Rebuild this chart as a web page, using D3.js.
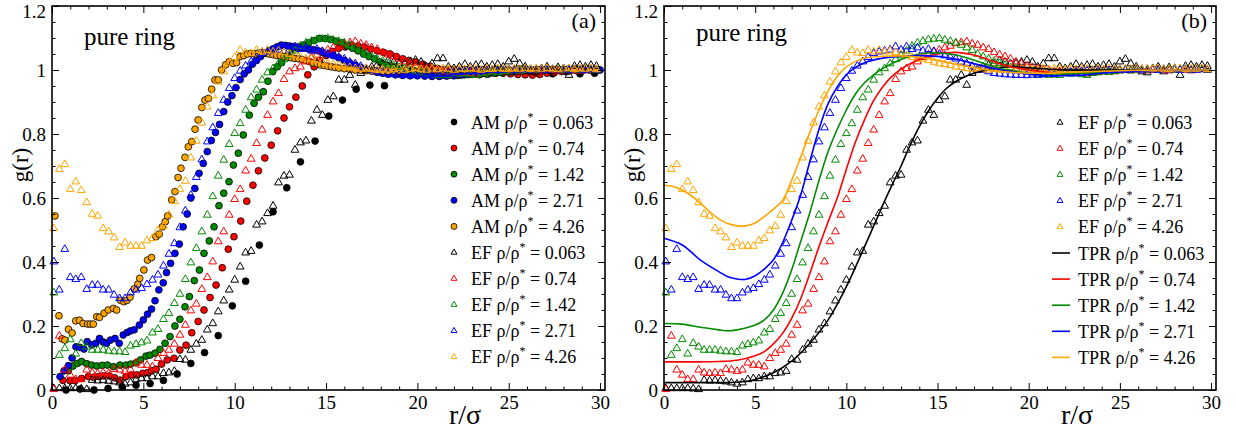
<!DOCTYPE html>
<html><head><meta charset="utf-8">
<script src="https://cdn.jsdelivr.net/npm/d3@7/dist/d3.min.js"></script>
<style>
body{margin:0;background:#fff}
svg{display:block}
text{font-family:"Liberation Serif","Times New Roman",serif;fill:#000}
</style></head>
<body><svg id="chart" width="1236" height="433"></svg>
<script>
// ---------------- DATA ----------------
const densities = ["0.063", "0.74", "1.42", "2.71", "4.26"];
const xTickLabels = ["0", "5", "10", "15", "20", "25", "30"];
const yTickLabels = ["0", "0.2", "0.4", "0.6", "0.8", "1", "1.2"];

// EF (shared r grid), g(r) values per density
const rEF = [0.1,0.4,0.7,1.0,1.3,1.6,1.9,2.2,2.5,2.8,
3.1,3.4,3.7,4.0,4.3,4.6,4.9,5.2,5.5,5.8,
6.1,6.4,6.7,7.0,7.3,7.6,7.9,8.2,8.5,8.8,
9.1,9.4,9.7,10.0,10.3,10.6,10.9,11.2,11.5,11.8,
12.1,12.4,12.7,13.0,13.3,13.6,13.9,14.2,14.5,14.8,
15.1,15.4,15.7,16.0,16.3,16.6,16.9,17.2,17.5,17.8,
18.1,18.4,18.7,19.0,19.3,19.6,19.9,20.2,20.5,20.8,
21.1,21.4,21.7,22.0,22.3,22.6,22.9,23.2,23.5,23.8,
24.1,24.4,24.7,25.0,25.3,25.6,25.9,26.2,26.5,26.8,
27.1,27.4,27.7,28.0,28.3,28.6,28.9,29.2,29.5,29.8];
const efBlack = [0.005,0.005,0.005,0.005,0.005,0.004,0.002,0.031,0.029,0.030,
0.028,0.026,0.023,0.019,0.023,0.033,0.036,0.036,0.042,0.042,
0.052,0.054,0.059,0.096,0.094,0.125,0.144,0.156,0.188,0.208,
0.245,0.279,0.313,0.344,0.385,0.429,0.434,0.516,0.526,0.552,
0.575,0.648,0.669,0.672,0.750,0.773,0.779,0.841,0.875,0.859,
0.906,0.917,0.969,0.969,0.984,0.953,0.990,1.000,1.010,1.015,
1.020,1.030,1.025,1.020,1.020,1.025,1.031,1.025,1.010,1.020,
1.036,1.036,1.010,1.005,1.010,1.018,1.010,1.015,1.018,1.010,
1.015,1.018,1.010,1.026,1.034,1.020,1.010,0.995,0.992,1.005,
1.010,0.995,1.008,1.005,0.984,1.012,1.015,1.010,1.015,1.012];
const efRed = [0.002,0.169,0.063,0.047,0.033,0.033,0.063,0.054,0.052,0.054,
0.052,0.065,0.063,0.059,0.063,0.085,0.078,0.078,0.073,0.099,
0.115,0.125,0.144,0.172,0.203,0.248,0.269,0.315,0.352,0.401,
0.464,0.495,0.547,0.596,0.627,0.685,0.722,0.771,0.813,0.859,
0.901,0.927,0.971,0.995,1.005,1.010,1.026,1.040,1.047,1.058,
1.063,1.070,1.075,1.083,1.086,1.089,1.082,1.078,1.070,1.065,
1.055,1.048,1.042,1.035,1.026,1.020,1.012,1.008,1.005,1.000,
0.998,0.995,0.995,0.993,0.990,0.992,0.990,0.988,0.990,0.993,
0.995,0.993,0.995,0.998,1.000,0.998,1.000,1.002,0.998,1.000,
1.002,1.000,0.998,1.000,1.002,1.000,0.998,1.000,1.002,1.000];
const efGreen = [0.304,0.109,0.130,0.158,0.113,0.146,0.135,0.125,0.125,0.125,
0.122,0.120,0.120,0.118,0.138,0.143,0.148,0.154,0.179,0.190,
0.221,0.240,0.271,0.300,0.346,0.398,0.443,0.495,0.547,0.605,
0.669,0.719,0.768,0.802,0.833,0.875,0.914,0.938,0.969,0.992,
1.005,1.020,1.033,1.045,1.060,1.075,1.085,1.090,1.095,1.097,
1.099,1.094,1.090,1.085,1.078,1.070,1.062,1.050,1.042,1.035,
1.028,1.021,1.015,1.008,1.005,1.000,0.995,0.992,0.988,0.986,
0.984,0.985,0.984,0.990,0.988,0.990,0.986,0.984,0.990,0.992,
0.995,0.993,0.996,0.998,1.000,0.998,1.000,1.002,1.000,1.003,
1.000,1.002,1.004,1.000,1.003,1.002,1.000,1.003,1.002,1.000];
const efBlue = [0.401,0.313,0.440,0.352,0.346,0.352,0.315,0.328,0.328,0.313,
0.313,0.297,0.286,0.286,0.304,0.313,0.318,0.330,0.344,0.360,
0.388,0.425,0.458,0.508,0.560,0.609,0.665,0.720,0.776,0.820,
0.865,0.906,0.943,0.974,0.997,1.013,1.026,1.040,1.052,1.057,
1.060,1.063,1.073,1.063,1.073,1.065,1.070,1.060,1.065,1.058,
1.050,1.045,1.040,1.035,1.025,1.020,1.012,1.005,1.000,0.995,
0.990,0.988,0.986,0.985,0.984,0.984,0.983,0.985,0.984,0.986,
0.988,0.987,0.990,0.992,0.994,0.995,0.996,0.998,0.997,0.999,
1.000,0.999,1.000,1.002,1.000,1.001,1.003,1.000,1.002,1.001,
1.000,1.002,1.001,1.003,1.000,1.002,1.001,1.000,1.002,1.001];
const efOrange = [0.505,0.690,0.705,0.627,0.651,0.624,0.586,0.550,0.544,0.505,
0.495,0.476,0.446,0.460,0.450,0.450,0.450,0.467,0.474,0.498,
0.512,0.547,0.590,0.627,0.653,0.726,0.778,0.835,0.885,0.920,
0.963,0.995,1.023,1.040,1.062,1.054,1.052,1.062,1.057,1.062,
1.057,1.060,1.055,1.050,1.045,1.040,1.035,1.035,1.030,1.025,
1.020,1.018,1.015,1.010,1.008,1.005,1.003,1.005,1.002,1.000,
1.003,1.000,1.002,1.005,1.000,1.003,1.005,1.002,1.000,1.004,
1.002,1.005,1.003,1.000,1.004,1.002,1.005,1.003,1.000,1.004,
1.002,1.005,1.003,1.002,1.004,1.003,1.005,1.002,1.004,1.003,
1.005,1.003,1.002,1.004,1.005,1.002,1.004,1.003,1.005,1.002];

// AM simulation points [r, g(r)]
const amBlack = [[0.77,0.0],[1.53,0.003],[2.3,0.0],[3.07,0.005],[3.84,0.01],[4.6,0.015],[5.37,0.02],[6.1,0.03],[6.85,0.05],[7.6,0.083],[8.35,0.117],[9.1,0.17],[9.87,0.263],[10.6,0.34],[11.35,0.453],[12.1,0.557],[12.85,0.632],[13.6,0.713],[14.4,0.778],[15.15,0.856],[15.9,0.906],[16.65,0.94],[17.4,0.953],[18.2,0.951],[18.95,0.988],[19.7,1.0],[20.5,1.005],[21.25,1.0],[22.0,1.002],[22.8,0.998],[23.55,1.0],[24.3,1.003],[25.1,0.998],[25.85,1.0],[26.6,0.99],[27.4,0.988],[28.15,0.995],[28.9,0.988],[29.7,0.99]];
const amRed = [[0.6,0.03],[0.99,0.029],[1.26,0.029],[1.62,0.036],[1.99,0.042],[2.27,0.04],[2.54,0.042],[2.81,0.044],[3.14,0.044],[3.43,0.038],[3.72,0.031],[4.05,0.042],[4.36,0.047],[4.64,0.047],[4.96,0.052],[5.22,0.054],[5.46,0.06],[5.7,0.065],[6.0,0.081],[6.31,0.094],[6.68,0.099],[7.0,0.125],[7.34,0.14],[7.65,0.179],[8.0,0.214],[8.32,0.25],[8.65,0.289],[8.98,0.328],[9.32,0.382],[9.65,0.44],[9.96,0.479],[10.33,0.528],[10.66,0.59],[11.0,0.64],[11.3,0.685],[11.65,0.725],[12.0,0.765],[12.35,0.81],[12.7,0.85],[13.0,0.885],[13.35,0.915],[13.7,0.95],[14.0,0.985],[14.35,1.01],[14.65,1.03],[15.0,1.045],[15.35,1.058],[15.7,1.068],[16.05,1.072],[16.4,1.078],[16.75,1.075],[17.1,1.072],[17.45,1.065],[17.8,1.06],[18.15,1.055],[18.5,1.05],[18.85,1.042],[19.2,1.035],[19.55,1.03],[19.9,1.025],[20.3,1.018],[20.7,1.012],[21.1,1.005],[21.5,1.0],[21.9,0.998],[22.3,0.995],[22.7,0.993],[23.1,0.99],[23.5,0.99],[23.9,0.988],[24.3,0.99],[24.7,0.99],[25.1,0.988],[25.5,0.986],[25.9,0.985],[26.3,0.984],[26.7,0.986],[27.1,0.99],[27.5,0.992],[27.9,0.995],[28.3,0.997],[28.7,0.998],[29.1,1.0],[29.5,1.0],[29.9,1.0]];
const amGreen = [[0.9,0.06],[1.15,0.075],[1.39,0.083],[1.62,0.089],[1.9,0.082],[2.17,0.078],[2.45,0.075],[2.75,0.077],[3.03,0.078],[3.36,0.073],[3.72,0.078],[4.05,0.078],[4.31,0.081],[4.6,0.085],[4.85,0.094],[5.15,0.106],[5.36,0.109],[5.64,0.115],[5.91,0.127],[6.19,0.146],[6.46,0.167],[6.73,0.2],[7.0,0.221],[7.28,0.26],[7.52,0.292],[7.79,0.342],[8.07,0.375],[8.32,0.427],[8.61,0.466],[8.87,0.51],[9.14,0.576],[9.4,0.615],[9.69,0.651],[9.93,0.703],[10.2,0.74],[10.47,0.797],[10.8,0.859],[11.06,0.896],[11.3,0.915],[11.57,0.932],[11.82,0.965],[12.08,0.995],[12.33,1.01],[12.57,1.023],[12.88,1.045],[13.15,1.06],[13.45,1.07],[13.75,1.078],[14.05,1.085],[14.35,1.092],[14.65,1.099],[14.95,1.098],[15.25,1.095],[15.55,1.09],[15.85,1.085],[16.15,1.075],[16.45,1.068],[16.75,1.06],[17.05,1.05],[17.35,1.042],[17.65,1.035],[17.95,1.025],[18.3,1.016],[18.65,1.01],[19.0,1.003],[19.4,0.998],[19.8,0.993],[20.2,0.99],[20.6,0.988],[21.0,0.986],[21.4,0.984],[21.8,0.984],[22.2,0.983],[22.6,0.985],[23.0,0.986],[23.4,0.985],[23.8,0.987],[24.2,0.99],[24.6,0.992],[25.0,0.994],[25.4,0.995],[25.8,0.997],[26.2,0.998],[26.6,1.0],[27.0,1.0],[27.4,1.002],[27.8,1.0],[28.2,1.002],[28.6,1.003],[29.0,1.002],[29.4,1.003],[29.8,1.002]];
const amBlue = [[0.44,0.042],[0.66,0.06],[0.9,0.076],[1.1,0.1],[1.31,0.135],[1.53,0.133],[1.75,0.128],[1.93,0.151],[2.17,0.141],[2.4,0.146],[2.6,0.161],[2.8,0.15],[2.99,0.146],[3.2,0.156],[3.45,0.161],[3.68,0.146],[3.9,0.172],[4.12,0.18],[4.3,0.185],[4.5,0.188],[4.78,0.203],[5.0,0.219],[5.23,0.237],[5.45,0.253],[5.64,0.279],[5.85,0.313],[6.09,0.335],[6.27,0.367],[6.49,0.396],[6.73,0.427],[6.97,0.456],[7.18,0.51],[7.4,0.55],[7.6,0.6],[7.82,0.63],[8.05,0.677],[8.28,0.708],[8.5,0.745],[8.72,0.78],[8.95,0.805],[9.17,0.83],[9.4,0.87],[9.62,0.9],[9.85,0.92],[10.07,0.945],[10.3,0.97],[10.52,0.988],[10.75,1.0],[10.97,1.018],[11.2,1.03],[11.42,1.042],[11.65,1.052],[11.87,1.06],[12.1,1.066],[12.32,1.072],[12.55,1.078],[12.77,1.077],[13.0,1.075],[13.22,1.073],[13.45,1.072],[13.67,1.07],[13.9,1.068],[14.12,1.065],[14.35,1.063],[14.57,1.06],[14.8,1.055],[15.1,1.05],[15.4,1.045],[15.7,1.038],[16.0,1.03],[16.3,1.022],[16.6,1.015],[16.9,1.008],[17.2,1.002],[17.5,0.997],[17.8,0.993],[18.1,0.99],[18.4,0.987],[18.8,0.985],[19.2,0.983],[19.6,0.982],[20.0,0.982],[20.4,0.981],[20.8,0.98],[21.2,0.98],[21.6,0.981],[22.0,0.982],[22.4,0.984],[22.8,0.986],[23.2,0.988],[23.6,0.99],[24.0,0.992],[24.4,0.994],[24.8,0.996],[25.2,0.997],[25.6,0.998],[26.0,1.0],[26.4,1.0],[26.8,1.001],[27.2,1.0],[27.6,1.002],[28.0,1.001],[28.4,1.0],[28.8,1.002],[29.2,1.001],[29.6,1.0],[30.0,1.0]];
const amOrange = [[0.16,0.544],[0.38,0.232],[0.55,0.16],[0.71,0.156],[0.9,0.19],[1.1,0.178],[1.3,0.216],[1.5,0.218],[1.7,0.208],[1.95,0.206],[2.1,0.206],[2.26,0.206],[2.45,0.229],[2.6,0.227],[2.85,0.24],[3.08,0.25],[3.36,0.255],[3.54,0.25],[3.76,0.28],[3.94,0.276],[4.1,0.28],[4.27,0.29],[4.5,0.316],[4.7,0.331],[4.8,0.349],[5.03,0.375],[5.23,0.406],[5.45,0.414],[5.69,0.479],[5.87,0.487],[6.04,0.51],[6.2,0.526],[6.33,0.544],[6.55,0.594],[6.73,0.62],[6.9,0.664],[7.06,0.693],[7.28,0.727],[7.46,0.76],[7.65,0.776],[7.83,0.815],[8.0,0.844],[8.2,0.883],[8.37,0.906],[8.56,0.911],[8.74,0.94],[8.92,0.969],[9.1,0.969],[9.28,1.0],[9.5,1.016],[9.7,1.026],[9.9,1.021],[10.1,1.023],[10.3,1.042],[10.5,1.045],[10.7,1.05],[10.9,1.052],[11.1,1.05],[11.3,1.053],[11.5,1.055],[11.7,1.052],[11.9,1.05],[12.1,1.048],[12.3,1.045],[12.5,1.045],[12.7,1.042],[12.9,1.04],[13.1,1.038],[13.3,1.036],[13.5,1.035],[13.7,1.033],[13.9,1.03],[14.1,1.026],[14.3,1.022],[14.5,1.02],[14.7,1.016],[14.9,1.014],[15.1,1.012],[15.3,1.01],[15.5,1.008],[15.7,1.006],[16.0,1.004],[16.3,1.002],[16.6,1.0],[16.9,0.999],[17.2,0.998],[17.5,0.997],[17.8,0.997],[18.1,0.996],[18.4,0.996],[18.7,0.997],[19.0,0.997],[19.4,0.998],[19.8,0.998],[20.2,0.999],[20.6,1.0],[21.0,1.0],[21.4,1.0],[21.8,1.001],[22.2,1.0],[22.6,1.001],[23.0,1.0],[23.4,1.001],[23.8,1.0],[24.2,1.001],[24.6,1.0],[25.0,1.001],[25.4,1.0],[25.8,1.001],[26.2,1.0],[26.6,1.001],[27.0,1.0],[27.4,1.001],[27.8,1.0],[28.2,1.001],[28.6,1.0],[29.0,1.001],[29.4,1.0],[29.8,1.001]];

// TPR theory curves [r, g(r)]
const tprBlack = [[0,0.023],[1,0.023],[2,0.023],[3,0.023],[4,0.024],[5,0.033],[6,0.054],[7,0.09],[8,0.146],[9,0.219],[10,0.323],[11,0.448],[12,0.578],[12.5,0.64],[13,0.70],[13.5,0.765],[14,0.823],[14.5,0.872],[15,0.912],[15.5,0.943],[16,0.964],[16.5,0.979],[17,0.99],[18,1.004],[19,1.01],[20,1.007],[21,1.003],[22,1.0],[24,1.0],[26,1.0],[28,1.0],[30,1.0]];
const tprRed = [[0,0.088],[1,0.088],[2,0.088],[3,0.089],[4,0.093],[5,0.107],[5.5,0.12],[6,0.144],[6.5,0.177],[7,0.224],[7.5,0.286],[8,0.365],[8.5,0.448],[9,0.526],[9.5,0.6],[10,0.69],[10.5,0.775],[11,0.845],[11.5,0.905],[12,0.948],[12.5,0.98],[13,1.003],[13.5,1.02],[14,1.033],[14.5,1.043],[15,1.05],[15.5,1.054],[16,1.055],[16.5,1.052],[17,1.047],[17.5,1.038],[18,1.028],[18.5,1.018],[19,1.01],[20,1.0],[21,0.993],[22,0.99],[23,0.99],[24,0.992],[25,0.995],[26,0.998],[28,1.0],[30,1.0]];
const tprGreen = [[0,0.208],[1,0.206],[2,0.196],[3,0.188],[3.5,0.185],[4,0.188],[5,0.203],[5.5,0.219],[6,0.25],[6.5,0.302],[7,0.375],[7.5,0.465],[8,0.555],[8.5,0.655],[9,0.745],[9.5,0.815],[10,0.875],[10.5,0.925],[11,0.96],[11.5,0.985],[12,1.005],[12.5,1.02],[13,1.033],[13.5,1.043],[14,1.05],[14.5,1.053],[15,1.053],[16,1.047],[17,1.031],[18,1.012],[19,0.998],[20,0.99],[21,0.988],[22,0.988],[23,0.99],[24,0.992],[25,0.995],[26,0.998],[28,1.0],[30,1.0]];
const tprBlue = [[0,0.474],[1,0.453],[2,0.406],[3,0.37],[3.5,0.354],[4,0.347],[4.5,0.346],[5,0.357],[5.5,0.378],[6,0.407],[6.5,0.46],[7,0.53],[7.5,0.61],[8,0.715],[8.5,0.815],[9,0.895],[9.5,0.947],[10,0.985],[10.5,1.008],[11,1.023],[12,1.037],[13,1.043],[14,1.045],[15,1.042],[16,1.034],[17,1.02],[18,1.006],[19,0.995],[20,0.987],[21,0.983],[22,0.982],[23,0.984],[24,0.99],[25,0.994],[26,0.997],[28,1.0],[30,1.0]];
const tprOrange = [[0,0.64],[0.5,0.636],[1,0.625],[1.5,0.607],[2,0.583],[2.5,0.557],[3,0.535],[3.5,0.52],[4,0.513],[4.5,0.513],[5,0.522],[5.5,0.542],[6,0.565],[6.5,0.592],[7,0.655],[7.5,0.728],[8,0.805],[8.5,0.875],[9,0.935],[9.5,0.98],[10,1.01],[10.5,1.027],[11,1.037],[12,1.043],[13,1.044],[14,1.04],[15,1.03],[16,1.018],[17,1.006],[18,0.998],[19,0.993],[20,0.99],[21,0.99],[22,0.992],[24,0.996],[26,0.999],[28,1.0],[30,1.0]];

// ---------------- STYLE / LAYOUT ----------------
const colors = ["#000000", "#ff0000", "#008b00", "#0000ff", "#ffa500"];
const efSeries = [efBlack, efRed, efGreen, efBlue, efOrange];
const amSeries = [amBlack, amRed, amGreen, amBlue, amOrange];
const tprSeries = [tprBlack, tprRed, tprGreen, tprBlue, tprOrange];

const svg = d3.select("#chart");
svg.append("rect").attr("width", 1236).attr("height", 433).attr("fill", "#fff");

const FONT = '"Liberation Serif","Times New Roman",serif';
const triPath = d3.symbol().type(d3.symbolTriangle).size(26)();
const triLegend = d3.symbol().type(d3.symbolTriangle).size(15)();

function makePanel(left, right) {
  const x = d3.scaleLinear().domain([0, 30.27]).range([left, right]);
  const y = d3.scaleLinear().domain([0, 1.2]).range([390, 6]);
  const g = svg.append("g");
  return {x, y, g, left, right};
}

function drawCircles(P, pts, color) {
  P.g.append("g").selectAll("circle").data(pts).join("circle")
    .attr("cx", d => P.x(d[0])).attr("cy", d => P.y(d[1])).attr("r", 3.4)
    .attr("fill", color).attr("stroke", "#000").attr("stroke-width", 0.8);
}
function drawTriangles(P, gs, color) {
  P.g.append("g").selectAll("path").data(d3.zip(rEF, gs)).join("path")
    .attr("d", triPath)
    .attr("transform", d => `translate(${P.x(d[0])},${P.y(d[1])})`)
    .attr("fill", "none").attr("stroke", color).attr("stroke-width", 1);
}
function drawLine(P, pts, color) {
  const line = d3.line().x(d => P.x(d[0])).y(d => P.y(d[1])).curve(d3.curveCatmullRom);
  P.g.append("path").datum(pts).attr("d", line)
    .attr("fill", "none").attr("stroke", color).attr("stroke-width", 1.6);
}

function drawAxes(P, letter, ringY) {
  const g = P.g.append("g");
  const xMajor = xTickLabels.map(Number);
  const yMajor = yTickLabels.map(Number);
  const xMinor = d3.range(0, 31, 1).filter(v => v % 5 !== 0);
  const yMinor = d3.range(0, 1.2001, 0.05).filter(v => Math.abs(v * 5 - Math.round(v * 5)) > 1e-6);
  const fmtX = d => xTickLabels[xMajor.indexOf(d)];
  const fmtY = d => yTickLabels[yMajor.findIndex(v => Math.abs(v - d) < 1e-9)];

  const bottom = y0 => g.append("g").attr("transform", `translate(0,${y0})`);
  bottom(390).call(d3.axisBottom(P.x).tickValues(xMajor).tickSizeInner(-7).tickSizeOuter(0).tickPadding(6).tickFormat(fmtX));
  bottom(390).call(d3.axisBottom(P.x).tickValues(xMinor).tickSizeInner(-3.5).tickSizeOuter(0).tickFormat(""));
  bottom(6).call(d3.axisTop(P.x).tickValues(xMajor).tickSizeInner(-7).tickSizeOuter(0).tickFormat(""));
  bottom(6).call(d3.axisTop(P.x).tickValues(xMinor).tickSizeInner(-3.5).tickSizeOuter(0).tickFormat(""));
  const side = x0 => g.append("g").attr("transform", `translate(${x0},0)`);
  const yl = side(P.left);
  yl.call(d3.axisLeft(P.y).tickValues(yMajor).tickSizeInner(-7).tickSizeOuter(0).tickPadding(6).tickFormat(fmtY));
  side(P.left).call(d3.axisLeft(P.y).tickValues(yMinor).tickSizeInner(-3.5).tickSizeOuter(0).tickFormat(""));
  side(P.right).call(d3.axisRight(P.y).tickValues(yMajor).tickSizeInner(-7).tickSizeOuter(0).tickFormat(""));
  side(P.right).call(d3.axisRight(P.y).tickValues(yMinor).tickSizeInner(-3.5).tickSizeOuter(0).tickFormat(""));

  g.selectAll(".domain").remove();
  g.selectAll(".tick line").attr("stroke", "#000").attr("stroke-width", 1);
  g.selectAll(".tick text").attr("font-family", FONT).attr("font-size", 19).attr("fill", "#000");
  g.selectAll("g").attr("font-family", FONT);
  // keep the top label fully inside the picture
  yl.selectAll(".tick text").filter(d => d === yMajor[yMajor.length - 1]).attr("dy", "0.62em");

  g.append("rect").attr("x", P.left).attr("y", 6).attr("width", P.right - P.left).attr("height", 384)
    .attr("fill", "none").attr("stroke", "#000").attr("stroke-width", 1.6);

  g.append("text").attr("transform", `translate(${P.left - 24},165) rotate(-90)`)
    .attr("text-anchor", "middle").attr("font-size", 23).text("g(r)");
  g.append("text").attr("x", P.left + 413).attr("y", 424).attr("text-anchor", "middle")
    .attr("font-size", 28).text("r/σ");
  g.append("text").attr("x", P.right - 9).attr("y", 28).attr("text-anchor", "end")
    .attr("font-size", 22).text(letter);
  g.append("text").attr("x", P.left + 32).attr("y", ringY).attr("font-size", 25).text("pure ring");
}

function legendText(g, x, y, prefix, dens) {
  const t = g.append("text").attr("x", x).attr("y", y).attr("font-size", 18);
  t.append("tspan").text(prefix + " ρ/ρ");
  t.append("tspan").attr("dy", -8).attr("font-size", 12).text("*");
  t.append("tspan").attr("dy", 8).text(" = " + dens);
}

// ---------------- PANEL (a) ----------------
const A = makePanel(52, 605);
amSeries.forEach((s, i) => drawCircles(A, s, colors[i]));
efSeries.forEach((s, i) => drawTriangles(A, s, colors[i]));
drawAxes(A, "(a)", 45);
{
  const lg = A.g.append("g");
  densities.forEach((d, i) => {
    const cy = 122 + i * 26.1;
    lg.append("circle").attr("cx", 454).attr("cy", cy).attr("r", 3)
      .attr("fill", colors[i]).attr("stroke", "#000").attr("stroke-width", 0.8);
    legendText(lg, 471, cy + 6.5, "AM", d);
  });
  densities.forEach((d, i) => {
    const cy = 122 + (i + 5) * 26.1;
    lg.append("path").attr("d", triLegend).attr("transform", `translate(454,${cy})`)
      .attr("fill", "none").attr("stroke", colors[i]).attr("stroke-width", 1);
    legendText(lg, 471, cy + 6.5, "EF", d);
  });
}

// ---------------- PANEL (b) ----------------
const B = makePanel(664, 1216);
efSeries.forEach((s, i) => drawTriangles(B, s, colors[i]));
tprSeries.forEach((s, i) => drawLine(B, s, colors[i]));
drawAxes(B, "(b)", 41);
{
  const lg = B.g.append("g");
  densities.forEach((d, i) => {
    const cy = 122.5 + i * 26.1;
    lg.append("path").attr("d", triLegend).attr("transform", `translate(1060,${cy})`)
      .attr("fill", "none").attr("stroke", colors[i]).attr("stroke-width", 1);
    legendText(lg, 1078, cy + 6.5, "EF", d);
  });
  densities.forEach((d, i) => {
    const cy = 122.5 + (i + 5) * 26.1;
    lg.append("line").attr("x1", 1052).attr("x2", 1070).attr("y1", cy).attr("y2", cy)
      .attr("stroke", colors[i]).attr("stroke-width", 1.6);
    legendText(lg, 1078, cy + 6.5, "TPR", d);
  });
}
</script>
</body></html>
